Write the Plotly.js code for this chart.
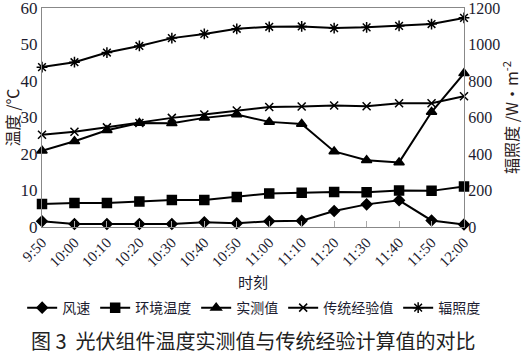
<!DOCTYPE html>
<html>
<head>
<meta charset="utf-8">
<script src="https://cdn.plot.ly/plotly-3.0.1.min.js"></script>
<style>html,body{margin:0;padding:0;background:#fff;}#chart{width:525px;height:357px;}</style>
</head>
<body>
<div id="chart"></div>
<script>
const times = ["9:50","10:00","10:10","10:20","10:30","10:40","10:50","11:00","11:10","11:20","11:30","11:40","11:50","12:00"];
const windSpeed = [1.6, 0.8, 0.8, 0.8, 0.8, 1.3, 1.0, 1.6, 1.7, 4.4, 6.2, 7.3, 1.8, 0.7];
const ambientTemp = [6.3, 6.6, 6.6, 7.0, 7.4, 7.4, 8.2, 9.2, 9.4, 9.6, 9.5, 10.0, 9.9, 11.1];
const measured = [20.9, 23.5, 26.5, 28.5, 28.4, 29.9, 30.8, 28.8, 28.2, 20.7, 18.3, 17.7, 31.5, 42.1];
const traditional = [25.3, 26.1, 27.3, 28.5, 29.9, 30.8, 31.9, 32.9, 33.0, 33.3, 33.1, 33.9, 33.9, 35.8];
const irradiance = [876, 903, 956, 992, 1035, 1058, 1086, 1097, 1099, 1090, 1094, 1102, 1112, 1146];
const tempTicks = [0, 10, 20, 30, 40, 50, 60];
const irrTicks = [0, 200, 400, 600, 800, 1000, 1200];

const numFont = "Liberation Serif, Noto Serif CJK SC, serif";
const cjkFont = "Noto Sans CJK SC, Noto Sans, sans-serif";
const txt = "#1c1c30";

function tr(name, y, symbol, size, yaxis) {
  return {
    x: times, y: y, name: name, type: "scatter", mode: "lines+markers",
    yaxis: yaxis || "y", cliponaxis: false,
    line: {color: "#000", width: 2},
    marker: {symbol: symbol, size: size, color: "#000", line: {color: "#000", width: 1.5}}
  };
}

const data = [
  tr("风速", windSpeed, "diamond", 8),
  tr("环境温度", ambientTemp, "square", 9),
  tr("实测值", measured, "triangle-up", 9),
  tr("传统经验值", traditional, "x-thin-open", 8),
  tr("辐照度", irradiance, "asterisk-open", 9, "y2")
];

const layout = {
  width: 525, height: 357,
  margin: {l: 42, r: 61, t: 8, b: 130, autoexpand: false},
  paper_bgcolor: "#fff", plot_bgcolor: "#fff",
  showlegend: true,
  font: {family: numFont, color: txt},
  xaxis: {
    type: "category", range: [0, 13],
    showgrid: false, zeroline: false,
    showline: true, linecolor: "#888", linewidth: 1, mirror: true,
    ticks: "inside", ticklen: 6, tickcolor: "#aaa",
    tickangle: -45, ticklabeloverflow: "allow",
    tickfont: {family: numFont, size: 15, color: txt},
    title: {text: "时刻", font: {family: cjkFont, size: 15, color: txt}, standoff: 8}
  },
  yaxis: {
    range: [0, 60], tickmode: "array", tickvals: tempTicks,
    showgrid: false, zeroline: false, ticklabeloverflow: "allow",
    showline: true, linecolor: "#888", linewidth: 1,
    ticks: "", tickfont: {family: numFont, size: 17, color: txt},
    title: {text: "温度 /℃", font: {family: cjkFont, size: 16, color: "#2a2020"}, standoff: 2}
  },
  yaxis2: {
    overlaying: "y", side: "right",
    range: [0, 1200], tickmode: "array", tickvals: irrTicks,
    showgrid: false, zeroline: false, ticklabeloverflow: "allow",
    showline: true, linecolor: "#888", linewidth: 1,
    ticks: "", tickfont: {family: numFont, size: 16, color: txt}
  },
  legend: {
    orientation: "h", x: -0.047, xanchor: "left", y: -0.37, yanchor: "middle",
    font: {family: cjkFont, size: 14, color: txt},
    bgcolor: "rgba(0,0,0,0)", itemwidth: 30
  },
  annotations: [{
    text: "辐照度 /W•m<sup>-2</sup>",
    xref: "paper", yref: "paper", x: 1.11, y: 0.5, xanchor: "center", yanchor: "middle",
    textangle: -90, showarrow: false,
    font: {family: cjkFont, size: 16, color: "#2a2020"}
  }, {
    text: "图 3  光伏组件温度实测值与传统经验计算值的对比",
    xref: "paper", yref: "paper", x: 0.5, y: -0.516, xanchor: "center", yanchor: "middle",
    showarrow: false, font: {family: cjkFont, size: 20, color: "#222"}
  }]
};

Plotly.newPlot("chart", data, layout, {displayModeBar: false, staticPlot: true});
</script>
</body>
</html>
